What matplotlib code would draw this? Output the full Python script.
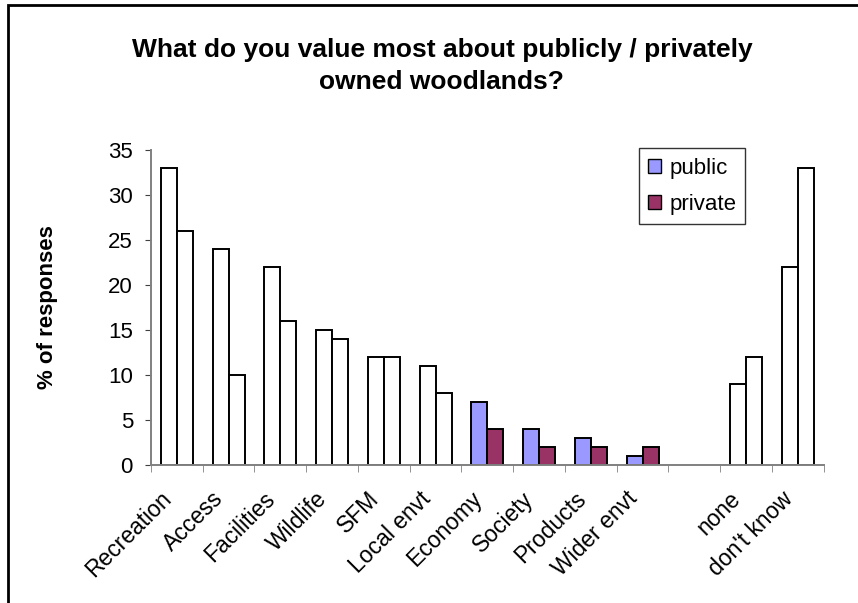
import numpy as np
import matplotlib.pyplot as plt
from matplotlib.patches import Rectangle, Patch

plt.rcParams['font.family'] = ['Liberation Sans', 'DejaVu Sans']

# Données
categories = ['Recreation', 'Access', 'Facilities', 'Wildlife', 'SFM', 'Local envt',
              'Economy', 'Society', 'Products', 'Wider envt', '', 'none', "don't know"]
public = [33, 24, 22, 15, 12, 11, 7, 4, 3, 1, np.nan, 9, 22]
private = [26, 10, 16, 14, 12, 8, 4, 2, 2, 2, np.nan, 12, 33]
colored = [False, False, False, False, False, False, True, True, True, True, False, False, False]

public_color = '#9999FF'
private_color = '#993366'

fig = plt.figure(figsize=(8.58, 6.03), dpi=100)
ax = fig.add_axes([0.176, 0.229, 0.784, 0.522])

x = np.arange(len(categories))
w = 0.31
pub_colors = [public_color if c else 'white' for c in colored]
priv_colors = [private_color if c else 'white' for c in colored]
ax.bar(x - w / 2, public, w, color=pub_colors, edgecolor='black', linewidth=1.4)
ax.bar(x + w / 2, private, w, color=priv_colors, edgecolor='black', linewidth=1.4)

ax.set_xlim(-0.5, len(categories) - 0.5)
ax.set_ylim(0, 35)
ax.set_yticks(range(0, 36, 5))
# étiquettes légèrement décalées vers la gauche (comme dans Excel)
ax.set_xticks(x - 0.17)
ax.set_xticklabels(categories, rotation=45, ha='right', va='center',
                   rotation_mode='anchor', fontsize=16.5)
ax.set_xticks(np.arange(-0.5, len(categories), 1), minor=True)
ax.tick_params(axis='x', which='major', length=0, pad=22)
ax.tick_params(axis='x', which='minor', length=5, color='#808080', direction='out')
ax.tick_params(axis='y', length=4.5, color='#404040', labelsize=16, pad=8.5)

for s in ['top', 'right']:
    ax.spines[s].set_visible(False)
for s in ['left', 'bottom']:
    ax.spines[s].set_color('#808080')
    ax.spines[s].set_linewidth(1.4)

ax.set_ylabel('% of responses', fontsize=16, fontweight='bold', labelpad=36)

fig.text(0.515, 0.890, 'What do you value most about publicly / privately\nowned woodlands?',
         ha='center', va='center', fontsize=19, fontweight='bold', linespacing=1.42)

handles = [Patch(facecolor=public_color, edgecolor='black', label='public'),
           Patch(facecolor=private_color, edgecolor='black', label='private')]
leg = ax.legend(handles=handles, loc='upper left', bbox_to_anchor=(0.725, 1.006),
                fontsize=16, frameon=True, fancybox=False, handlelength=0.6,
                handleheight=0.6, handletextpad=0.35, labelspacing=0.68, borderpad=0.42,
                borderaxespad=0)
leg.get_frame().set_edgecolor('black')
leg.get_frame().set_linewidth(1.0)

# cadre autour de la figure
fig.patches.append(Rectangle((8 / 858, -0.1), 1.2, 1.1 - 5 / 603, transform=fig.transFigure,
                             fill=False, edgecolor='black', linewidth=2))

fig.savefig('out.png', dpi=100)
